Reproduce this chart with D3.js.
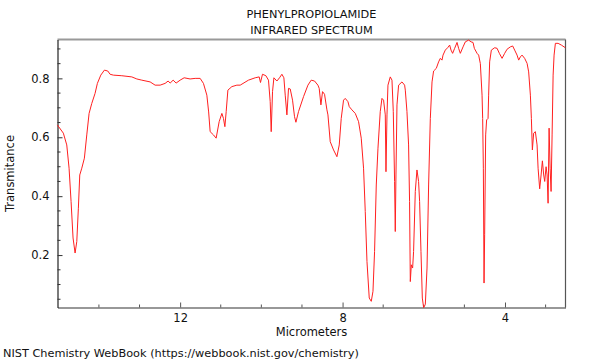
<!DOCTYPE html>
<html><head><meta charset="utf-8">
<script src="https://cdn.jsdelivr.net/npm/d3@7"></script>
<style>body{margin:0;background:#fff}svg{display:block}text{font-family:"DejaVu Sans",sans-serif}</style>
</head><body>
<svg id="c" width="600" height="360"></svg>
<script>
const titleLines = ["PHENYLPROPIOLAMIDE", "INFRARED SPECTRUM"];
const xLabel = "Micrometers";
const yLabel = "Transmitance";
const footer = "NIST Chemistry WebBook (https://webbook.nist.gov/chemistry)";
const xDomain = [15.02, 2.51];
const yDomain = [0.022, 0.932];
const xTicks = [12, 8, 4];
const yTicks = [0.2, 0.4, 0.6, 0.8];

const micrometers = [
15.024,14.876,14.792,14.735,14.686,14.637,14.587,14.545,14.506,14.472,14.422,14.358,14.299,14.242,14.176,14.095,14.038,13.954,13.865,13.782,13.725,13.644,13.437,13.190,13.067,12.944,
12.739,12.616,12.493,12.370,12.296,12.246,12.172,12.099,12.000,11.901,11.754,11.630,11.507,11.426,11.342,11.298,11.261,11.179,11.113,11.039,10.972,10.933,10.898,10.866,10.824,10.726,10.603,10.521,
10.317,10.152,10.053,10.021,9.972,9.888,9.824,9.782,9.757,9.725,9.691,9.617,9.553,9.494,9.445,9.412,9.371,9.331,9.289,9.232,9.183,9.149,9.085,8.961,8.853,8.772,8.690,8.607,8.575,8.533,8.493,8.444,8.385,8.360,8.304,
8.222,8.139,8.082,8.033,7.976,7.934,7.868,7.835,7.769,7.687,7.606,7.540,7.483,7.441,7.399,7.343,7.293,7.251,7.212,7.170,7.128,7.072,7.030,6.990,6.948,6.931,6.906,6.882,6.825,6.783,6.751,6.719,6.702,6.685,6.660,6.620,6.537,6.472,
6.455,6.414,6.374,6.350,6.332,6.307,6.275,6.251,6.209,6.168,6.128,6.103,6.069,6.036,6.004,5.962,5.920,5.881,5.839,5.797,5.758,5.692,5.635,5.593,5.551,5.526,5.470,5.413,5.363,5.329,5.290,5.240,5.181,5.142,5.100,5.033,4.977,4.895,4.836,4.787,4.755,4.688,4.649,
4.607,4.565,4.550,4.533,4.516,4.501,4.476,4.452,4.417,4.403,4.378,4.336,4.254,4.195,4.139,4.072,4.008,3.949,3.868,3.811,3.762,3.703,3.663,3.622,3.580,3.516,3.456,3.417,3.375,3.350,3.326,3.294,3.252,3.210,3.185,3.146,3.111,3.079,3.047,3.022,2.988,2.963,2.939,2.914,2.889,2.865,2.840,2.815,2.791,2.759,2.692,2.611,2.513
];
const transmittance = [
0.642,0.614,0.574,0.495,0.382,0.258,0.207,0.246,0.359,0.472,0.495,0.529,0.608,0.681,0.715,0.749,0.783,0.811,0.828,0.825,0.814,0.811,0.809,0.805,0.798,0.794,
0.788,0.777,0.777,0.783,0.791,0.784,0.794,0.784,0.794,0.802,0.798,0.800,0.800,0.783,0.743,0.686,0.619,0.608,0.597,0.653,0.681,0.664,0.636,0.687,0.760,0.772,0.777,0.777,
0.794,0.802,0.805,0.786,0.814,0.809,0.794,0.721,0.619,0.755,0.802,0.791,0.802,0.814,0.802,0.743,0.676,0.766,0.764,0.726,0.670,0.651,0.687,0.738,0.777,0.794,0.791,0.777,0.766,0.710,0.755,0.746,0.693,0.676,0.585,
0.557,0.534,0.574,0.664,0.726,0.732,0.721,0.704,0.693,0.681,0.653,0.597,0.495,0.348,0.178,0.054,0.043,0.077,0.212,0.438,0.563,0.687,0.732,0.726,0.676,0.483,0.676,0.777,0.805,0.794,0.687,0.450,0.280,0.472,0.710,0.777,0.788,0.777,
0.760,0.687,0.574,0.382,0.110,0.167,0.156,0.212,0.416,0.489,0.450,0.382,0.212,0.054,0.022,0.032,0.156,0.438,0.664,0.788,0.825,0.834,0.856,0.868,0.862,0.879,0.896,0.904,0.913,0.896,0.885,0.902,0.922,0.902,0.885,0.907,0.924,0.930,0.924,0.922,0.902,0.885,0.879,
0.850,0.743,0.664,0.495,0.105,0.269,0.608,0.659,0.664,0.743,0.856,0.896,0.904,0.902,0.885,0.868,0.885,0.899,0.907,0.910,0.896,0.879,0.862,0.873,0.879,0.868,0.851,0.822,0.743,0.664,0.557,0.614,0.619,0.574,0.495,0.425,0.472,0.520,0.472,0.450,0.500,0.472,0.376,0.631,0.495,0.416,0.608,0.811,0.879,0.919,0.919,0.913,0.904
];

const svg = d3.select("#c");
const L = 57.5, R = 565.5, T = 39.5, B = 307.5;
const x = d3.scaleLinear().domain(xDomain).range([L, R]);
const y = d3.scaleLinear().domain(yDomain).range([B, T]);

// frame top/right
svg.append("line").attr("x1", L).attr("x2", R).attr("y1", T).attr("y2", T).attr("stroke", "#999").attr("stroke-width", 2);
svg.append("line").attr("x1", R).attr("x2", R).attr("y1", T).attr("y2", B).attr("stroke", "#555").attr("stroke-width", 1.2);

// x axis
const xMinor = d3.range(3, 15, 1).filter(v => !xTicks.includes(v));
const xa = svg.append("g").attr("transform", `translate(0,${B})`)
  .call(d3.axisBottom(x).tickValues(xTicks).tickFormat(d3.format("d")).tickSizeInner(-5).tickSizeOuter(0).tickPadding(6));
xa.select(".domain").attr("stroke", "#333").attr("stroke-width", 1.2);
xa.selectAll(".tick line").attr("stroke", "#555");
xa.selectAll("text").attr("font-size", 11.5).attr("fill", "#111");
svg.append("g").selectAll("line").data(xMinor).join("line")
  .attr("x1", d => x(d)).attr("x2", d => x(d)).attr("y1", B).attr("y2", B - 3).attr("stroke", "#555");

// y axis
const yMinor = d3.range(0.05, 0.93, 0.05).map(v => +v.toFixed(2)).filter(v => !yTicks.includes(v));
const ya = svg.append("g").attr("transform", `translate(${L},0)`)
  .call(d3.axisLeft(y).tickValues(yTicks).tickFormat(d3.format(".1f")).tickSizeInner(-5).tickSizeOuter(0).tickPadding(8));
ya.select(".domain").attr("stroke", "#222").attr("stroke-width", 1.2);
ya.selectAll(".tick line").attr("stroke", "#333");
ya.selectAll("text").attr("font-size", 11.5).attr("fill", "#111");
svg.append("g").selectAll("line").data(yMinor).join("line")
  .attr("x1", L).attr("x2", L + 3).attr("y1", d => y(d)).attr("y2", d => y(d)).attr("stroke", "#333");

// spectrum
const pts = micrometers.map((m, i) => [m, transmittance[i]]);
svg.append("path").datum(pts)
  .attr("fill", "none").attr("stroke", "#ff2020").attr("stroke-width", 1).attr("stroke-linejoin", "round")
  .attr("d", d3.line().x(d => x(d[0])).y(d => y(d[1])));

// texts
const cx = (L + R) / 2;
svg.selectAll(".title").data(titleLines).join("text")
  .attr("x", cx).attr("y", (d, i) => 18 + i * 16).attr("text-anchor", "middle").attr("font-size", 11.3).attr("fill", "#111").text(d => d);
svg.append("text").attr("x", cx).attr("y", 336).attr("text-anchor", "middle").attr("font-size", 11.5).attr("fill", "#111").text(xLabel);
svg.append("text").attr("transform", `translate(14,${(T + B) / 2}) rotate(-90)`).attr("text-anchor", "middle").attr("font-size", 11.5).attr("fill", "#111").text(yLabel);
svg.append("text").attr("x", 3).attr("y", 357).attr("font-size", 11.3).attr("fill", "#111").text(footer);
</script>
</body></html>
